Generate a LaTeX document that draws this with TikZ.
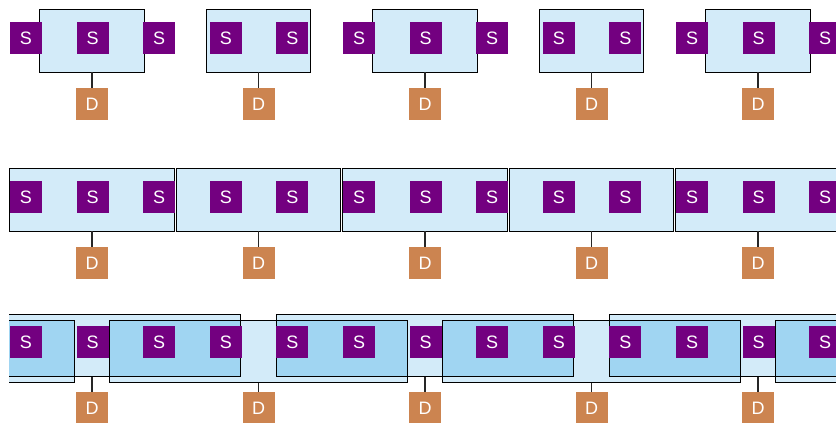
\documentclass[tikz,border=0pt]{standalone}
\usepackage{fontspec}
\setmainfont{Liberation Sans}
\usetikzlibrary{positioning}
\definecolor{chanfill}{RGB}{211,235,249}
\definecolor{chanover}{RGB}{160,213,242}
\definecolor{srcpurple}{RGB}{115,0,128}
\definecolor{drnorange}{RGB}{204,132,80}
\tikzstyle{source} = [rectangle, fill=srcpurple, text=white, minimum size=32pt,
    inner sep=0pt, font=\fontsize{18}{18}\selectfont]
\tikzstyle{drain} = [source, fill=drnorange]
\tikzstyle{channel} = [rectangle, fill=chanfill, inner sep=0pt, minimum height=62pt]
\tikzstyle{border} = [draw=black, line width=1.3pt]
\tikzstyle{wire} = [draw=black!85, line width=1.3pt]

\begin{document}
\begin{tikzpicture}[x=1pt, y=-1pt]
\useasboundingbox (0,0) rectangle (836,423);
\clip (9,0) rectangle (836,423);

% Place channels
\foreach \k in {1,...,5} {
  \node [channel, minimum width=104pt] (ch1-\k) at ({92+166.5*(\k-1)},41) {};
  \node [channel, minimum width=164pt] (ch2-\k) at ({92+166.5*(\k-1)},200) {};
}
\foreach \k in {0,2,4,6}
  \node [channel, minimum width=297pt] (ch3-\k) at ({92+166.5*(\k-1)},351.5) {};
\foreach \k in {1,3,5}
  \node [channel, minimum width=297pt] (ch3-\k) at ({92+166.5*(\k-1)},345.5) {};

% Overlaps of the long channels
\foreach \k [evaluate=\k as \j using int(\k+1)] in {0,...,5} {
  \begin{scope}
    \clip (ch3-\k.south west) rectangle (ch3-\k.north east);
    \fill [chanover] (ch3-\j.south west) rectangle (ch3-\j.north east);
  \end{scope}
}

% Borders
\foreach \k in {1,...,5} {
  \draw [border] (ch1-\k.south west) rectangle (ch1-\k.north east);
  \draw [border] (ch2-\k.south west) rectangle (ch2-\k.north east);
}
\foreach \k in {0,...,6}
  \draw [border] (ch3-\k.south west) rectangle (ch3-\k.north east);

% Place sources
\foreach \j in {0,...,12} {
  \node [source] (src1-\j) at ({26+66.6*\j},38) {S};
  \node [source] (src2-\j) at ({26+66.6*\j},197) {S};
  \node [source] (src3-\j) at ({26+66.6*\j},342) {S};
}

% Place drains and draw edges
\foreach \k in {1,...,5} {
  \node [drain] (drn1-\k) at ({92+166.5*(\k-1)},104) {D};
  \node [drain] (drn2-\k) at ({92+166.5*(\k-1)},263) {D};
  \node [drain] (drn3-\k) at ({92+166.5*(\k-1)},408) {D};
  \path [wire] (ch1-\k.south) -- (drn1-\k.north);
  \path [wire] (ch2-\k.south) -- (drn2-\k.north);
  \path [wire] (ch3-\k.south) -- (drn3-\k.north);
}
\end{tikzpicture}
\end{document}
